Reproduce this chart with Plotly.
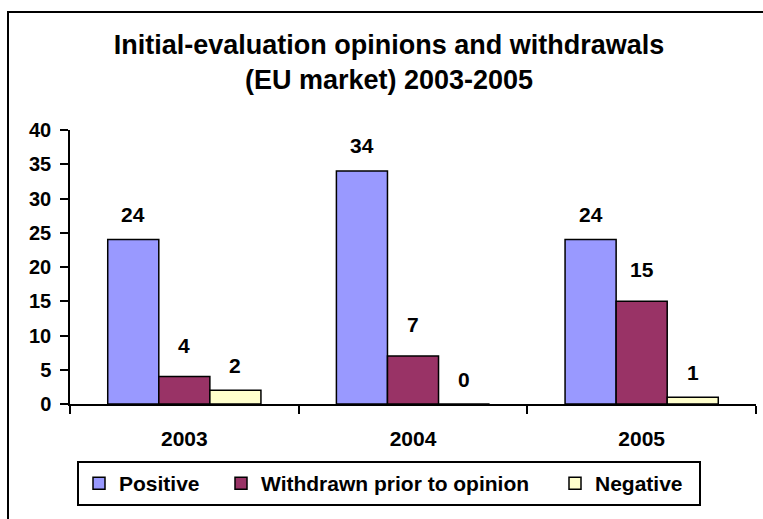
import plotly.graph_objects as go

# ---- data ----
years = ["2003", "2004", "2005"]
positive = [24, 34, 24]
withdrawn = [4, 7, 15]
negative = [2, 0, 1]
series_names = ["Positive", "Withdrawn prior to opinion", "Negative"]
y_tick_values = [0, 5, 10, 15, 20, 25, 30, 35, 40]
title_text = "Initial-evaluation opinions and withdrawals<br>(EU market) 2003-2005"

# ---- style ----
colors = ["#9999FF", "#993366", "#FFFFCC"]
label_gaps = [17, 23, 16]          # px between bar top and its value label
legend_widths = [97, 289, 99]
FONT = "Liberation Sans, Arial, Helvetica, sans-serif"
BARGAP = 0.33
W, H = 763, 519
L, R, T, B = 70, 7, 130, 115
plot_w = W - L - R
plot_h = H - T - B

all_series = [positive, withdrawn, negative]

fig = go.Figure()
for name, vals, col, lw in zip(series_names, all_series, colors, legend_widths):
    fig.add_trace(go.Bar(
        x=years, y=vals, name=name,
        marker=dict(color=col, line=dict(color="black", width=1.5)),
        legendwidth=lw,
    ))

# value labels above bars
n = len(all_series)
bar_w = (1 - BARGAP) / n
annotations = []
for k, vals in enumerate(all_series):
    for i, v in enumerate(vals):
        annotations.append(dict(
            x=i + (k - (n - 1) / 2) * bar_w, y=v, xref="x", yref="y",
            text=str(v), showarrow=False, yanchor="bottom",
            yshift=label_gaps[k] - 5,
            font=dict(family=FONT, size=21, color="black", weight="bold"),
        ))

def px_x(p):
    return (p - L) / plot_w

def px_y(p):
    return (H - B - p) / plot_h

fig.update_layout(
    width=W, height=H,
    margin=dict(l=L, r=R, t=T, b=B, pad=0),
    paper_bgcolor="white", plot_bgcolor="white",
    barmode="group", bargap=BARGAP, bargroupgap=0,
    font=dict(family=FONT, color="black"),
    title=dict(
        text=title_text, x=389 / W, xref="container", xanchor="center",
        y=1 - 53.5 / H, yref="container", yanchor="middle",
        font=dict(family=FONT, size=27, color="black", weight="bold"),
    ),
    xaxis=dict(
        type="category", range=[-0.5, len(years) - 0.5],
        showline=True, linecolor="black", linewidth=1.5,
        ticks="outside", tickson="boundaries", ticklen=8,
        tickcolor="black", tickwidth=1.5,
        ticklabelstandoff=15,
        tickfont=dict(family=FONT, size=21, color="black", weight="bold"),
        showgrid=False, zeroline=False,
    ),
    yaxis=dict(
        range=[0, 40], tickvals=y_tick_values,
        showline=True, linecolor="black", linewidth=1.5,
        ticks="outside", ticklen=8, tickcolor="black", tickwidth=1.5,
        ticklabelstandoff=5,
        tickfont=dict(family=FONT, size=20, color="black", weight="bold"),
        showgrid=False, zeroline=False,
    ),
    showlegend=True,
    legend=dict(
        orientation="h", x=px_x(77), xanchor="left",
        y=px_y(461), yanchor="top",
        bordercolor="black", borderwidth=2, bgcolor="white",
        font=dict(family=FONT, size=21, color="black", weight="bold"),
        itemwidth=30, traceorder="normal",
    ),
    annotations=annotations,
    shapes=[dict(
        type="rect", xref="paper", yref="paper",
        x0=px_x(8), x1=px_x(790), y0=px_y(540), y1=px_y(12),
        line=dict(color="black", width=2), fillcolor="rgba(0,0,0,0)",
        layer="below",
    )],
)

fig.write_html(
    "out.html",
    config={"displayModeBar": False},
    post_script="document.body.style.margin='0';document.body.style.overflow='hidden';",
)
